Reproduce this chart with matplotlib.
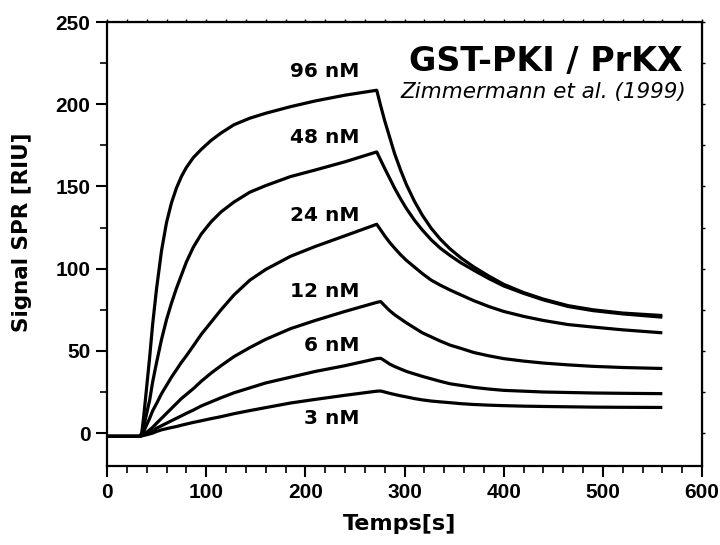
import matplotlib
matplotlib.use("Agg")
import matplotlib.pyplot as plt
from matplotlib.ticker import MultipleLocator

# ---- data ----
time_s = [0, 33, 35, 37, 40, 43, 46, 50, 55, 60, 65, 70, 75, 80, 87, 95, 105, 115, 128, 144,
          160, 185, 210, 240, 272,
          276, 280, 285, 290, 296, 302, 310, 318, 327, 336, 346, 357, 370, 385, 400, 420,
          440, 465, 490, 520, 560]

sig_96nM = [-2, -2, 0, 10, 28, 46, 66, 88, 111, 128, 140, 149, 156, 161.5, 167.5, 172.5, 178,
            182.5, 187.5, 191.5, 194.5, 198.5, 202, 205.5, 208.5,
            199, 190, 180, 170, 160, 151, 141, 132.5, 124.5, 118, 112, 106.5, 101, 95.5, 90.5,
            85.5, 81.5, 77.5, 75, 73, 71.5]
sig_48nM = [-2, -2, -0.5, 4, 12, 20, 31, 43, 57, 69, 79, 88, 96, 104, 113, 121, 128.5, 134.5,
            140.5, 146.5, 150.5, 156, 160, 165, 171,
            166, 161, 155, 149, 142.5, 136.5, 129.5, 123.5, 117.5, 112.5, 108, 103.5, 99, 94,
            89.5, 85, 81, 77, 74.5, 72.5, 70.5]
sig_24nM = [-2, -2, -1, 1, 5, 9, 13.5, 18, 24, 29, 34, 38.5, 43, 47, 53, 60, 67.5, 75, 84, 93,
            99.5, 107.5, 113.5, 120, 127,
            123.5, 120, 116, 112.5, 108.5, 105, 101, 97, 93, 90, 87, 84, 80.5, 77, 74, 71,
            68.5, 66, 64.5, 62.8, 61]
sig_12nM = [-2, -2, -1.5, -0.5, 0.5, 2, 3.5, 6, 9, 12, 15, 18, 21, 23.5, 27, 31.5, 36.5, 41,
            46.5, 52, 57, 63.5, 68.5, 74, 79.5,
            80, 77.5, 74.5, 72, 69.5, 67, 64, 61, 58.5, 56, 53.5, 51.5, 49, 47, 45.3, 43.8,
            42.6, 41.5, 40.6, 39.9, 39.3]
sig_6nM = [-2, -2, -1.5, -1, -0.5, 0.3, 1.2, 3, 4.5, 6, 7.5, 9, 10.5, 12, 14, 16.5, 19, 21.5,
           24.5, 27.5, 30.5, 34, 37.5, 41, 45.3,
           45.5, 44, 42, 40.5, 39, 37.5, 36, 34.5, 33, 31.5, 30, 29, 27.8, 26.8, 26, 25.5,
           25, 24.7, 24.4, 24.2, 24]
sig_3nM = [-2, -2, -1.7, -1.4, -1, -0.5, 0, 1, 2, 2.7, 3.4, 4, 4.8, 5.5, 6.5, 7.5, 8.8, 10,
           11.8, 13.7, 15.5, 18.3, 20.5, 23, 25.5,
           25.6, 25, 24.2, 23.5, 22.7, 22, 21, 20.2, 19.5, 19, 18.5, 17.9, 17.4, 17, 16.7,
           16.4, 16.2, 16, 15.8, 15.7, 15.6]

series = [sig_96nM, sig_48nM, sig_24nM, sig_12nM, sig_6nM, sig_3nM]
conc_labels = ["96 nM", "48 nM", "24 nM", "12 nM", "6 nM", "3 nM"]
label_x = [255, 255, 255, 255, 255, 255]
label_y = [220, 179.5, 132.5, 86, 53, 9]

x_ticks = [0, 100, 200, 300, 400, 500, 600]
y_ticks = [0, 50, 100, 150, 200, 250]

title = "GST-PKI / PrKX"
subtitle = "Zimmermann et al. (1999)"
xlabel = "Temps[s]"
ylabel = "Signal SPR [RIU]"

# ---- figure ----
W, H = 720, 545
fig = plt.figure(figsize=(W / 100, H / 100), dpi=100)
ax = fig.add_axes([107 / W, 1 - 466 / H, (702 - 107) / W, (466 - 22) / H])

for s in series:
    ax.plot(time_s, s, color="black", lw=2.3, solid_joinstyle="round", solid_capstyle="butt")

ax.set_xlim(0, 600)
ax.set_ylim(-20, 250)

ax.xaxis.set_minor_locator(MultipleLocator(20))
ax.yaxis.set_minor_locator(MultipleLocator(25))
ax.set_xticks(x_ticks)
ax.set_yticks(y_ticks)

ax.tick_params(which="major", direction="out", length=8, width=1.5, pad=4)
ax.tick_params(which="minor", direction="out", length=5, width=1.2)
for lab in ax.get_xticklabels() + ax.get_yticklabels():
    lab.set_fontfamily("Liberation Sans")
    lab.set_fontweight("bold")
    lab.set_fontsize(15)

for sp in ax.spines.values():
    sp.set_linewidth(1.6)

# tiny ticks on top and right spines
top = ax.secondary_xaxis("top")
top.xaxis.set_major_locator(MultipleLocator(20))
top.tick_params(which="major", direction="out", length=2.5, width=1.0, labeltop=False)
top.tick_params(which="minor", length=0)
right = ax.secondary_yaxis("right")
right.yaxis.set_major_locator(MultipleLocator(25))
right.tick_params(which="major", direction="out", length=2.5, width=1.0, labelright=False)
right.tick_params(which="minor", length=0)

for lx, ly, txt in zip(label_x, label_y, conc_labels):
    ax.text(lx, ly, txt, ha="right", va="center", fontsize=14.5, fontweight="bold",
            family="DejaVu Sans")

fig.text(683 / W, 1 - 62 / H, title, ha="right", va="center", fontsize=24,
         fontweight="bold", family="DejaVu Sans")
fig.text(686 / W, 1 - 92 / H, subtitle, ha="right", va="center", fontsize=15.5,
         style="italic", family="DejaVu Sans")

fig.text(400 / W, 1 - 524 / H, xlabel, ha="center", va="center", fontsize=16,
         fontweight="bold", family="DejaVu Sans")
fig.text(22 / W, 1 - 232 / H, ylabel, ha="center", va="center", rotation=90,
         fontsize=15.5, fontweight="bold", family="DejaVu Sans")

fig.savefig("out.png", dpi=100)
